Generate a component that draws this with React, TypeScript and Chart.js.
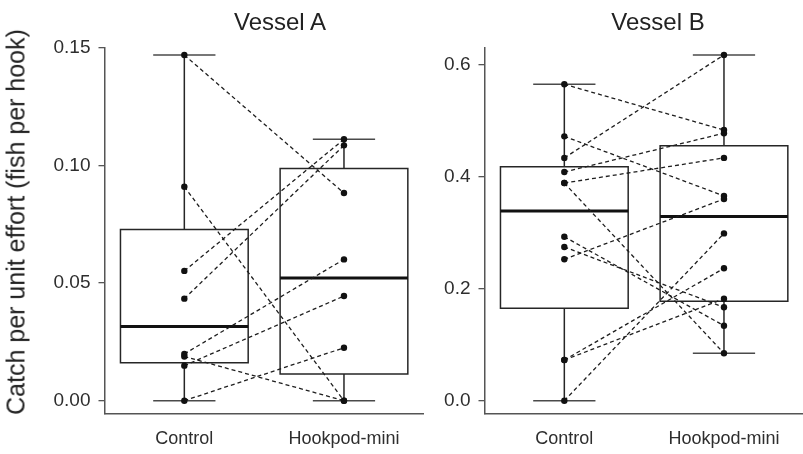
import React, { useEffect, useRef } from "react";
import { Chart, registerables } from "chart.js";

Chart.register(...registerables);

// ---------- data ----------
const groups = ["Control", "Hookpod-mini"];
const panelTitles = ["Vessel A", "Vessel B"];
const yAxisTitle = "Catch per unit effort (fish per hook)";

const yTicksA = [0, 0.05, 0.1, 0.15];
const yTicksB = [0, 0.2, 0.4, 0.6];

// Vessel A: paired sets (index k in control pairs with index k in hookpod)
const aControl = [0.147, 0.091, 0.0552, 0.0434, 0.0199, 0.0149, 0.0188, 0.0];
const aHookpod = [0.0883, 0.0, 0.1112, 0.1086, 0.0601, 0.0445, 0.0, 0.0225];
const aMin = [0.0, 0.0];
const aQ1 = [0.0161, 0.0114];
const aMedian = [0.0316, 0.0522];
const aQ3 = [0.0728, 0.0987];
const aMax = [0.147, 0.1112];

// Vessel B
const bControl = [0.5655, 0.4725, 0.434, 0.4088, 0.389, 0.389, 0.293, 0.2747, 0.2527, 0.0727, 0.0727, 0.0];
const bHookpod = [0.4838, 0.366, 0.618, 0.478, 0.434, 0.0847, 0.134, 0.1669, 0.3605, 0.2366, 0.1823, 0.299];
const bMin = [0.0, 0.0847];
const bQ1 = [0.165, 0.1776];
const bMedian = [0.339, 0.329];
const bQ3 = [0.418, 0.4558];
const bMax = [0.5655, 0.618];

// ---------- styling constants ----------
const BOX = 0.4;
const CAP = 0.195;
const FONT = "'Liberation Sans', Arial, Helvetica, sans-serif";
const AXIS_COLOR = "#555555";
const LINE_COLOR = "#262626";

type Pt = { x: number; y: number };

function seg(data: Pt[], extra: any = {}) {
  return {
    data,
    showLine: true,
    pointRadius: 0,
    pointHoverRadius: 0,
    borderColor: LINE_COLOR,
    borderWidth: 1.5,
    fill: false,
    tension: 0,
    ...extra,
  };
}

function buildDatasets(
  control: number[],
  hookpod: number[],
  mins: number[],
  q1s: number[],
  meds: number[],
  q3s: number[],
  maxs: number[]
) {
  const ds: any[] = [];
  groups.forEach((_, i) => {
    const c = i + 1;
    ds.push(
      seg(
        [
          { x: c - BOX, y: q1s[i] },
          { x: c + BOX, y: q1s[i] },
          { x: c + BOX, y: q3s[i] },
          { x: c - BOX, y: q3s[i] },
          { x: c - BOX, y: q1s[i] },
        ],
        { order: 5, borderCapStyle: "square", borderJoinStyle: "miter" }
      )
    );
    ds.push(seg([{ x: c, y: mins[i] }, { x: c, y: q1s[i] }], { order: 4 }));
    ds.push(seg([{ x: c, y: q3s[i] }, { x: c, y: maxs[i] }], { order: 4 }));
    ds.push(seg([{ x: c - CAP, y: mins[i] }, { x: c + CAP, y: mins[i] }], { order: 4, borderColor: "#4a4a4a" }));
    ds.push(seg([{ x: c - CAP, y: maxs[i] }, { x: c + CAP, y: maxs[i] }], { order: 4, borderColor: "#4a4a4a" }));
    ds.push(seg([{ x: c - BOX, y: meds[i] }, { x: c + BOX, y: meds[i] }], { order: 3, borderWidth: 3, borderColor: "#111111" }));
  });
  control.forEach((v, k) => {
    ds.push(
      seg([{ x: 1, y: v }, { x: 2, y: hookpod[k] }], {
        order: 2,
        borderDash: [4, 3],
        borderWidth: 1.3,
        borderColor: "#1e1e1e",
      })
    );
  });
  [control, hookpod].forEach((vals, i) => {
    ds.push({
      data: vals.map((v) => ({ x: i + 1, y: v })),
      showLine: false,
      pointRadius: 3.2,
      pointHoverRadius: 3.2,
      pointBackgroundColor: "#111111",
      pointBorderWidth: 0,
      order: 0,
    });
  });
  return ds;
}

type PanelProps = {
  datasets: any[];
  yMin: number;
  yMax: number;
  yTicks: number[];
  decimals: number;
  left: number;
  width: number;
  yAxisWidth: number;
};

function Panel({ datasets, yMin, yMax, yTicks, decimals, left, width, yAxisWidth }: PanelProps) {
  const ref = useRef<HTMLCanvasElement | null>(null);
  useEffect(() => {
    if (!ref.current) return;
    const chart = new Chart(ref.current, {
      type: "scatter",
      data: { datasets },
      options: {
        animation: false,
        responsive: false,
        devicePixelRatio: 1,
        events: [],
        layout: { padding: { top: 48, left: 0, right: 0, bottom: 0 } },
        plugins: { legend: { display: false }, tooltip: { enabled: false }, title: { display: false } },
        scales: {
          x: {
            type: "linear",
            min: 0.5,
            max: 2.5,
            afterBuildTicks: (s: any) => {
              s.ticks = groups.map((_, i) => ({ value: i + 1 }));
            },
            afterFit: (s: any) => {
              s.height = 40;
            },
            grid: { display: false, drawTicks: false },
            border: { display: true, color: AXIS_COLOR, width: 1.5 },
            ticks: {
              padding: 14,
              autoSkip: false,
              maxRotation: 0,
              color: "#2e2e2e",
              font: { family: FONT, size: 18 },
              callback: (v: any) => groups[Math.round(Number(v)) - 1] ?? "",
            },
          },
          y: {
            type: "linear",
            min: yMin,
            max: yMax,
            afterBuildTicks: (s: any) => {
              s.ticks = yTicks.map((v) => ({ value: v }));
            },
            afterFit: (s: any) => {
              s.width = yAxisWidth;
            },
            grid: {
              display: true,
              drawOnChartArea: false,
              drawTicks: true,
              tickLength: 6,
              color: AXIS_COLOR,
              lineWidth: 1.3,
            },
            border: { display: true, color: AXIS_COLOR, width: 1.5 },
            ticks: {
              padding: 8,
              color: "#2e2e2e",
              font: { family: FONT, size: 19 },
              callback: (v: any) => Number(v).toFixed(decimals),
            },
          },
        },
      },
    });
    return () => chart.destroy();
  }, []);
  return (
    <canvas
      ref={ref}
      width={width}
      height={454}
      style={{ position: "absolute", left, top: 0, width, height: 454 }}
    />
  );
}

export default function App() {
  const dsA = buildDatasets(aControl, aHookpod, aMin, aQ1, aMedian, aQ3, aMax);
  const dsB = buildDatasets(bControl, bHookpod, bMin, bQ1, bMedian, bQ3, bMax);
  const titleStyle: React.CSSProperties = {
    position: "absolute",
    top: 10,
    fontFamily: FONT,
    fontSize: 24,
    lineHeight: "24px",
    color: "#222",
    whiteSpace: "nowrap",
    transform: "translateX(-50%)",
  };
  return (
    <div
      style={{
        position: "fixed",
        left: 0,
        top: 0,
        width: 803,
        height: 454,
        overflow: "hidden",
        background: "#fff",
      }}
    >
      <Panel
        datasets={dsA}
        yMin={-0.00566}
        yMax={0.15}
        yTicks={yTicksA}
        decimals={2}
        left={0}
        width={427}
        yAxisWidth={104.5}
      />
      <Panel
        datasets={dsB}
        yMin={-0.0238}
        yMax={0.6304}
        yTicks={yTicksB}
        decimals={1}
        left={440}
        width={367}
        yAxisWidth={44.5}
      />
      <div style={{ ...titleStyle, left: 280 }}>{panelTitles[0]}</div>
      <div style={{ ...titleStyle, left: 658 }}>{panelTitles[1]}</div>
      <div
        style={{
          position: "absolute",
          left: 16,
          top: 222,
          fontFamily: FONT,
          fontSize: 25,
          lineHeight: "25px",
          color: "#222",
          whiteSpace: "nowrap",
          transform: "translate(-50%, -50%) rotate(-90deg)",
        }}
      >
        {yAxisTitle}
      </div>
    </div>
  );
}
